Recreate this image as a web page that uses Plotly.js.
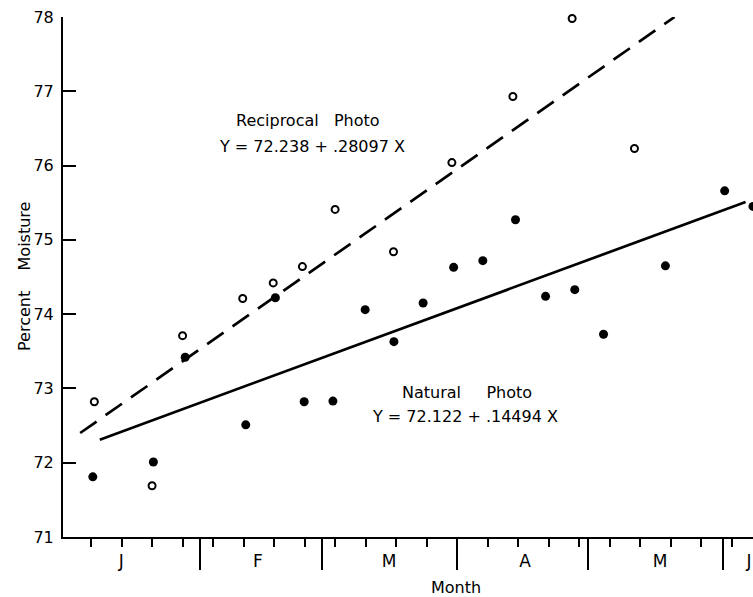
<!DOCTYPE html>
<html>
<head>
<meta charset="utf-8">
<script src="https://cdn.plot.ly/plotly-3.0.1.min.js"></script>
<style>html,body{margin:0;padding:0;background:#fff;}#chart{width:753px;height:597px;}</style>
</head>
<body>
<div id="chart"></div>
<script>
// x values are days since January 1
var recipDays = [6.75, 20.0, 27.0, 40.8, 47.8, 54.5, 62.0, 75.4, 88.8, 102.8, 116.4, 130.7];
var recipMoisture = [72.82, 71.69, 73.71, 74.21, 74.42, 74.64, 75.41, 74.84, 76.04, 76.93, 77.98, 76.23];

var natDays = [6.4, 20.3, 27.6, 41.5, 48.3, 54.9, 61.5, 68.9, 75.5, 82.2, 89.2, 95.9, 103.4, 110.3, 117.0, 123.6, 137.8, 151.4, 157.9];
var natMoisture = [71.81, 72.01, 73.42, 72.51, 74.22, 72.82, 72.83, 74.06, 73.63, 74.15, 74.63, 74.72, 75.27, 74.24, 74.33, 73.73, 74.65, 75.66, 75.45];

var recipLineDays = [3.5, 139.9];
var recipLineMoisture = [72.40, 78.0];
var natLineDays = [8.0, 156.2];
var natLineMoisture = [72.31, 75.51];

var monthBounds = [31, 59, 90, 120, 151];
var monthLabelDays = [12.9, 44.3, 74.4, 105.6, 136.6, 157.0];
var monthLabels = ['J', 'F', 'M', 'A', 'M', 'J'];
var yTicks = [71, 72, 73, 74, 75, 76, 77, 78];

var FONT = 'DejaVu Sans, Liberation Sans, sans-serif';
var xRange = [-0.44, 157.9];

var traces = [
  {x: recipLineDays, y: recipLineMoisture, xaxis: 'x2', mode: 'lines',
   line: {color: '#000', width: 2.7, dash: '20px,11px'}, hoverinfo: 'skip'},
  {x: natLineDays, y: natLineMoisture, xaxis: 'x2', mode: 'lines',
   line: {color: '#000', width: 2.7}, hoverinfo: 'skip'},
  {x: recipDays, y: recipMoisture, mode: 'markers', cliponaxis: false,
   marker: {symbol: 'circle-open', size: 7, color: '#000', line: {width: 2, color: '#000'}}},
  {x: natDays, y: natMoisture, mode: 'markers', cliponaxis: false,
   marker: {symbol: 'circle', size: 9, color: '#000'}}
];

var sp = '\u00a0';
function note(x, y, text, angle) {
  return {xref: 'paper', yref: 'paper', x: x, y: y, xanchor: 'center', yanchor: 'middle',
          showarrow: false, textangle: angle || 0, text: text,
          font: {family: FONT, size: 16, color: '#000'}};
}
var layout = {
  width: 753, height: 597,
  margin: {l: 63, r: 0, t: 17, b: 60},
  paper_bgcolor: '#fff', plot_bgcolor: '#fff',
  showlegend: false,
  hovermode: false,
  font: {family: FONT, size: 16, color: '#000'},
  xaxis: {
    range: xRange, showgrid: false, zeroline: false,
    showline: true, linewidth: 2, linecolor: '#000',
    tickmode: 'array', tickvals: monthBounds, showticklabels: false,
    ticks: 'outside', ticklen: 31, tickwidth: 2, tickcolor: '#000',
    minor: {tickmode: 'linear', tick0: 6, dtick: 7, ticks: 'outside', ticklen: 8, tickwidth: 2, tickcolor: '#000', showgrid: false}
  },
  xaxis2: {
    range: xRange, overlaying: 'x', side: 'bottom', showgrid: false, zeroline: false,
    showline: false, ticks: '', tickmode: 'array', tickvals: monthLabelDays, ticktext: monthLabels,
    tickfont: {family: FONT, size: 17, color: '#000'}, ticklabelstandoff: 12,
    ticklabeloverflow: 'allow'
  },
  yaxis: {
    range: [71, 78], showgrid: false, zeroline: false,
    showline: true, linewidth: 2, linecolor: '#000',
    tickmode: 'array', tickvals: yTicks,
    ticks: 'inside', ticklen: 13, tickwidth: 2, tickcolor: '#000',
    tickfont: {family: FONT, size: 16, color: '#000'}, ticklabelstandoff: 4
  },
  annotations: [
    note(0.3551, 0.8019, 'Reciprocal' + sp + sp + sp + 'Photo'),
    note(0.3609, 0.7519, 'Y = 72.238 + .28097 X'),
    note(0.5855, 0.2788, 'Natural' + sp + sp + sp + sp + sp + 'Photo'),
    note(0.5826, 0.2317, 'Y = 72.122 + .14494 X'),
    note(0.5696, -0.098, 'Month'),
    note(-0.0565, 0.5, 'Percent' + sp + sp + sp + sp + 'Moisture', -90)
  ]
};

Plotly.newPlot('chart', traces, layout, {displayModeBar: false, staticPlot: true});
</script>
</body>
</html>
